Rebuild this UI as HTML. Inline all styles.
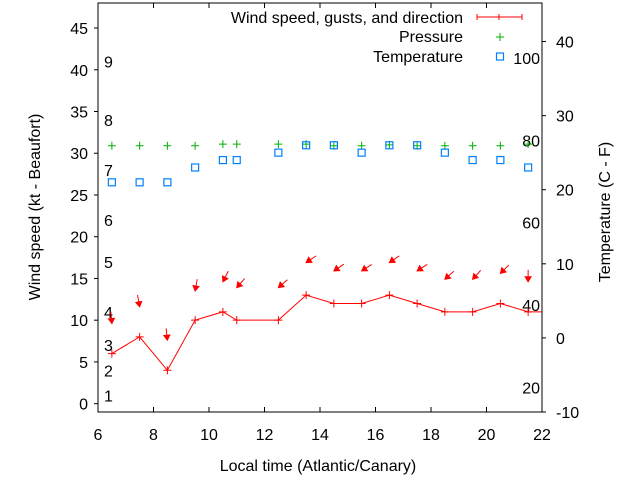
<!DOCTYPE html>
<html><head><meta charset="utf-8"><style>
html,body{margin:0;padding:0;background:#fff}
svg{display:block;font-family:"Liberation Sans",sans-serif}
</style></head><body>
<svg id="chart" width="640" height="480" viewBox="0 0 640 480" xmlns="http://www.w3.org/2000/svg"></svg>
<script>
const times=[6.5,7.5,8.5,9.5,10.5,11,12.5,13.5,14.5,15.5,16.5,17.5,18.5,19.5,20.5,21.5];
const windSpeed=[6,8,4,10,11,10,10,13,12,12,13,12,11,11,12,11];
const gusts=[9.6,11.6,7.6,13.5,14.6,13.9,13.9,16.9,15.9,15.9,16.9,15.9,14.9,14.9,15.6,14.6];
const windDir=[355,350,354,10,27,41,49,56,56,57,56,57,48,42,45,0];
const pressure=[30.9,30.9,30.9,30.9,31.1,31.1,31.1,31.1,30.9,30.9,31.0,30.9,30.9,30.9,30.9,31.1];
const temperature=[21,21,21,23,24,24,25,26,26,25,26,26,25,24,24,23];
const xTicks=[6,8,10,12,14,16,18,20,22];
const yTicks=[0,5,10,15,20,25,30,35,40,45];
const y2Ticks=[-10,0,10,20,30,40];
const beaufortLabels=[1,2,3,4,5,6,7,8,9];
const beaufortKt=[1,4,7,11,17,22,28,34,41];
const fahrenheitLabels=[20,40,60,80,100];

const L=98,R=542,T=3,B=412;
const X=v=>L+(v-6)/(22-6)*(R-L);
const Y=v=>B-(v+1)/(48+1)*(B-T);
const Y2=v=>B-(v+10)/(45.2+10)*(B-T);
const svg=document.getElementById('chart');
const NS='http://www.w3.org/2000/svg';
function mk(tag,attrs,parent){const e=document.createElementNS(NS,tag);for(const k in attrs)e.setAttribute(k,attrs[k]);(parent||svg).appendChild(e);return e;}
function txt(x,y,s,anchor,name,extra){const e=mk('text',Object.assign({x:x,y:y,'font-size':16,'text-anchor':anchor||'middle',fill:'#000'},extra||{}));e.textContent=s;

return e;}

const fr=mk('rect',{x:L,y:T,width:R-L,height:B-T,fill:'none',stroke:'#000','stroke-width':1});



xTicks.forEach(v=>{
  const t=mk('path',{d:`M${X(v)},${B}v-5M${X(v)},${T}v5`,stroke:'#000'});
  
  
  txt(X(v),440,String(v),'middle','x-tick-label');
});
yTicks.forEach(v=>{
  const t=mk('path',{d:`M${L},${Y(v)}h-4`,stroke:'#000'});
  
  
  txt(L-10,Y(v)+6,String(v),'end','y-tick-label');
});
y2Ticks.forEach(v=>{
  const t=mk('path',{d:`M${R},${Y2(v)}h4`,stroke:'#000'});
  
  
  txt(R+14,Y2(v)+6,String(v),'start','y2-tick-label');
});
beaufortLabels.forEach((b,i)=>{txt(104,Y(beaufortKt[i])+6,String(b),'start','beaufort-label');});
fahrenheitLabels.forEach(f=>{txt(540,Y2((f-32)*5/9)+6,String(f),'end','fahrenheit-label');});

txt(318,471,'Local time (Atlantic/Canary)','middle','x-axis-title');
txt(0,0,'Wind speed (kt - Beaufort)','middle','y-axis-title',{transform:'translate(40,207) rotate(-90)'});
txt(0,0,'Temperature (C - F)','middle','y2-axis-title',{transform:'translate(610,212) rotate(-90)'});

let d='';times.forEach((t,i)=>{d+=(i?'L':'M')+X(t)+','+Y(windSpeed[i]);});
d+='L'+R+','+Y(windSpeed[windSpeed.length-1]);
const wl=mk('path',{d:d,fill:'none',stroke:'#f00','stroke-width':1});


times.forEach((t,i)=>{
  const x=X(t),y=Y(windSpeed[i]);
  const p=mk('path',{d:`M${x-4},${y}h8M${x},${y-4}v8`,stroke:'#f00'});
  
  
});
times.forEach((t,i)=>{
  const hx=X(t),hy=Y(gusts[i]);const a=windDir[i]*Math.PI/180;
  const ux=Math.sin(a),uy=-Math.cos(a);
  const tx=hx+ux*12,ty=hy+uy*12;
  const px=-uy,py=ux;
  const bx=hx+ux*5,by=hy+uy*5;
  const g=mk('g',{});
  
  
  mk('path',{d:`M${tx},${ty}L${hx},${hy}`,stroke:'#f00'},g);
  mk('path',{d:`M${hx},${hy}L${bx+px*3},${by+py*3}L${bx-px*3},${by-py*3}Z`,fill:'#f00',stroke:'#f00'},g);
});
times.forEach((t,i)=>{
  const x=X(t),y=Y(pressure[i]);
  const p=mk('path',{d:`M${x-4},${y}h8M${x},${y-4}v8`,stroke:'#00b000'});
  
  
});
times.forEach((t,i)=>{
  const r=mk('rect',{x:X(t)-3.5,y:Y2(temperature[i])-3.5,width:7,height:7,fill:'none',stroke:'#0080ff','stroke-width':1.2});
  
  
});
txt(463,23,'Wind speed, gusts, and direction','end','legend-wind-label');
const lw=mk('path',{d:'M477,17H522M477,14v6M522,14v6M499,14v6',stroke:'#f00'});


txt(463,42,'Pressure','end','legend-pressure-label');
const lp=mk('path',{d:'M496,37h8M500,33v8',stroke:'#00b000'});


txt(463,62,'Temperature','end','legend-temperature-label');
const lt=mk('rect',{x:496.5,y:53,width:7,height:7,fill:'none',stroke:'#0080ff','stroke-width':1.2});


</script>
</body></html>
